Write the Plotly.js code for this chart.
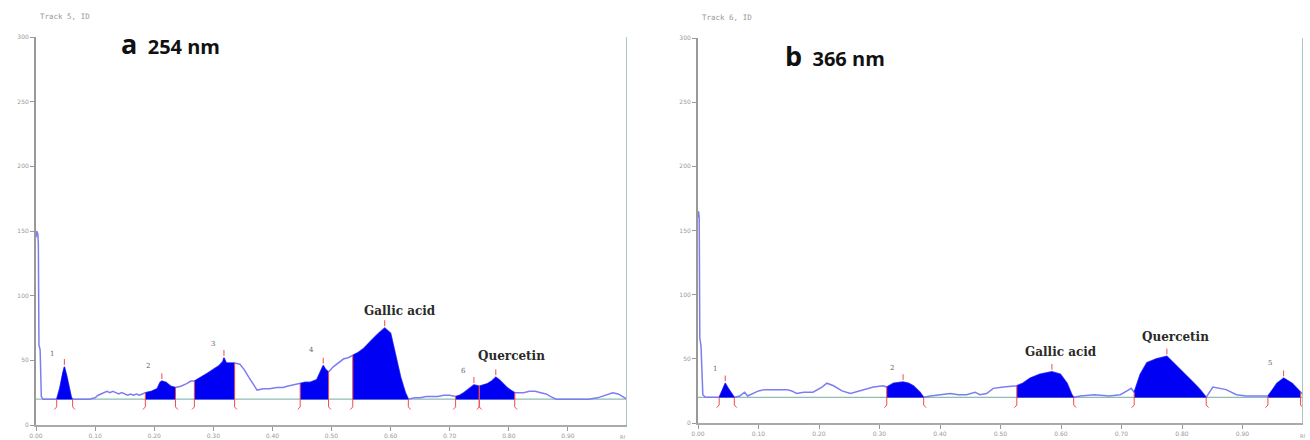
<!DOCTYPE html>
<html>
<head>
<meta charset="utf-8">
<script src="https://cdn.plot.ly/plotly-3.0.1.min.js"></script>
<style>html,body{margin:0;padding:0;background:#fff;}#chart{width:1310px;height:440px;}</style>
</head>
<body>
<div id="chart"></div>
<script>
// ---------- data : panel a (254 nm) ----------
const rfA = [0.000,0.001,0.003,0.004,0.005,0.007,0.009,0.012,0.020,0.030,
  0.035,0.040,0.045,0.048,0.052,0.056,0.060,0.062,0.070,0.080,0.090,0.100,0.105,0.110,0.115,0.120,0.125,0.130,0.135,0.140,0.145,0.150,0.155,0.160,0.165,0.170,0.175,0.180,
  0.185,0.195,0.205,0.210,0.213,0.220,0.228,0.236,
  0.245,0.255,0.262,0.268,0.280,0.290,0.300,0.310,0.316,0.318,0.322,0.330,0.336,
  0.345,0.352,0.360,0.368,0.374,0.385,0.395,0.408,0.418,0.425,0.435,0.443,
  0.447,0.455,0.464,0.475,0.480,0.486,0.490,0.495,
  0.503,0.512,0.520,0.528,0.536,0.545,0.554,0.562,0.571,0.580,0.590,0.595,0.600,0.608,0.617,0.625,0.630,
  0.640,0.650,0.660,0.670,0.680,0.690,0.700,0.710,
  0.717,0.724,0.730,0.735,0.741,0.750,0.757,0.764,0.771,0.778,0.784,0.790,0.797,0.803,0.810,
  0.815,0.825,0.835,0.845,0.854,0.863,0.871,0.880,0.895,0.910,0.922,0.935,0.950,0.963,0.976,0.985,0.993,1.000];
const absA = [145,150,148,140,62,58,22,20,20,20,
  20,28,40,45,38,28,21,20,20,20,20,21,23,24,25,26,25,26,25,24,25,24,23,24,23,24,23,24,
  25,26,28,33,34,33,30,29,
  30,32,34,34,37,40,43,46,49,52,48,48,48,
  47,43,37,31,27,28,28,29,29,30,31,32,
  32,33,33,35,40,46,43,41,
  45,48,51,52,54,56,59,63,67,71,75,73,71,55,37,25,20,
  21,21,22,22,22,23,23,22,
  23,25,27,29,31,30,31,32,34,37,35,32,29,27,25,
  25,25,26,26,25,24,22,20,20,20,20,20,21,23,25,24,22,20];
const peaksA = [
  {name:'1', start:0.035, end:0.062, apex:0.048},
  {name:'2', start:0.185, end:0.236, apex:0.213},
  {name:'3', start:0.268, end:0.336, apex:0.318},
  {name:'4', start:0.447, end:0.495, apex:0.486},
  {name:'Gallic acid', start:0.536, end:0.630, apex:0.590},
  {name:'6', start:0.710, end:0.750, apex:0.741},
  {name:'Quercetin', start:0.750, end:0.810, apex:0.778}
];
const labelsA = [
  {text:'1', x:0.027, y:55, big:false},
  {text:'2', x:0.190, y:46, big:false},
  {text:'3', x:0.300, y:63, big:false},
  {text:'4', x:0.466, y:58, big:false},
  {text:'Gallic acid', x:0.616, y:88, big:true},
  {text:'6', x:0.724, y:42, big:false},
  {text:'Quercetin', x:0.805, y:53, big:true}
];

// ---------- data : panel b (366 nm) ----------
const rfB = [0.000,0.001,0.002,0.003,0.005,0.008,0.012,0.020,0.030,
  0.035,0.040,0.045,0.050,0.055,0.060,
  0.069,0.077,0.082,0.090,0.100,0.110,0.125,0.140,0.147,0.155,0.163,0.175,0.190,0.205,0.213,0.224,0.238,0.252,0.268,0.290,0.306,
  0.312,0.323,0.339,0.348,0.356,0.367,0.373,
  0.384,0.400,0.417,0.430,0.444,0.458,0.466,0.477,0.488,0.505,0.521,
  0.527,0.537,0.549,0.565,0.575,0.585,0.599,0.610,0.618,0.621,
  0.632,0.655,0.680,0.698,0.709,0.716,
  0.721,0.731,0.742,0.758,0.775,0.786,0.797,0.808,0.820,0.830,0.840,
  0.851,0.862,0.873,0.890,0.906,0.920,0.934,
  0.942,0.950,0.957,0.968,0.975,0.982,0.990,0.996,1.000];
const absB = [160,165,160,66,60,22,20,20,20,
  20,25,31,27,23,20,
  21,24,21,23,25,26,26,26,26,25,23,24,24,28,31,29,25,23,25,28,29,
  28,31,32,31,29,24,20,
  21,22,23,22,22,24,22,23,27,28,29,
  29,31,35,38,39,40,38,31,22,20,
  21,22,21,22,25,27,
  24,38,47,50,52,47,42,37,31,26,20,
  28,27,26,22,21,21,21,
  21,26,31,35,33,31,27,24,22];
const peaksB = [
  {name:'1', start:0.035, end:0.060, apex:0.045},
  {name:'2', start:0.312, end:0.373, apex:0.339},
  {name:'Gallic acid', start:0.527, end:0.621, apex:0.585},
  {name:'Quercetin', start:0.721, end:0.840, apex:0.775},
  {name:'5', start:0.942, end:0.996, apex:0.968}
];
const labelsB = [
  {text:'1', x:0.028, y:42, big:false},
  {text:'2', x:0.320, y:43, big:false},
  {text:'Gallic acid', x:0.600, y:55, big:true},
  {text:'Quercetin', x:0.790, y:67, big:true},
  {text:'5', x:0.945, y:47, big:false}
];

const baseline = 20;
const xTickVals = [0,0.1,0.2,0.3,0.4,0.5,0.6,0.7,0.8,0.9];
const xTickText = ['0.00','0.10','0.20','0.30','0.40','0.50','0.60','0.70','0.80','0.90'];
const yTickVals = [0,50,100,150,200,250,300];
const yTickText = ['0','50','100','150','200','250','300'];

// ---------- helpers ----------
function valAt(rf, ab, x){
  for(let i=0;i<rf.length-1;i++){
    if(x>=rf[i] && x<=rf[i+1]){
      const t=(x-rf[i])/(rf[i+1]-rf[i]||1);
      return ab[i]+t*(ab[i+1]-ab[i]);
    }
  }
  return ab[ab.length-1];
}

function buildPanel(rf, ab, peaks, xa, ya){
  const traces=[];
  traces.push({x:[rf[0], rf[rf.length-1]], y:[baseline, baseline], xaxis:xa, yaxis:ya,
    mode:'lines', line:{color:'#8fbdb5', width:1.2}, hoverinfo:'skip'});
  traces.push({x:rf, y:ab, xaxis:xa, yaxis:ya, mode:'lines',
    line:{color:'#7d7df2', width:1.5}, hoverinfo:'skip'});
  peaks.forEach(p=>{
    const px=[p.start], py=[valAt(rf,ab,p.start)];
    for(let i=0;i<rf.length;i++){ if(rf[i]>p.start && rf[i]<p.end){px.push(rf[i]);py.push(ab[i]);} }
    px.push(p.end); py.push(valAt(rf,ab,p.end));
    px.push(p.end, p.start); py.push(baseline, baseline);
    traces.push({x:px, y:py, xaxis:xa, yaxis:ya, mode:'lines', fill:'toself',
      fillcolor:'#0000f5', line:{color:'#0000f5', width:0.5}, hoverinfo:'skip'});
  });
  const mx=[], my=[];
  peaks.forEach(p=>{
    const vs=valAt(rf,ab,p.start), ve=valAt(rf,ab,p.end), va=valAt(rf,ab,p.apex);
    mx.push(p.start,p.start,p.start-0.004,null); my.push(vs,baseline-6,baseline-8,null);
    mx.push(p.end,p.end,p.end+0.004,null); my.push(ve,baseline-6,baseline-8,null);
    mx.push(p.apex,p.apex,null); my.push(va+1.5,va+6,null);
  });
  traces.push({x:mx, y:my, xaxis:xa, yaxis:ya, mode:'lines',
    line:{color:'#f24a4a', width:1}, hoverinfo:'skip', connectgaps:false});
  return traces;
}

const data = [].concat(buildPanel(rfA, absA, peaksA, 'x', 'y'),
                       buildPanel(rfB, absB, peaksB, 'x2', 'y2'));

const tickFont = {family:'DejaVu Sans', size:6, color:'#999'};
function xAxis(dom, anchor){
  return {domain:dom, range:[0,1], anchor:anchor, tickvals:xTickVals, ticktext:xTickText,
    ticks:'outside', ticklen:4, tickcolor:'#999', tickfont:tickFont, showgrid:false, zeroline:false,
    showline:true, linecolor:'#aaa', linewidth:1.5, fixedrange:true};
}
function yAxis(dom, anchor){
  return {domain:dom, range:[0,300], anchor:anchor, tickvals:yTickVals, ticktext:yTickText,
    ticks:'outside', ticklen:4, tickcolor:'#999', tickfont:tickFont, showgrid:false, zeroline:false,
    showline:true, linecolor:'#999', linewidth:2, fixedrange:true};
}

function peakAnnots(labels, xr, yr){
  return labels.map(l=>({x:l.x, y:l.y, xref:xr, yref:yr, text: l.big? '<b>'+l.text+'</b>' : l.text,
    showarrow:false, xanchor:'center', yanchor:'middle',
    font: l.big ? {family:'DejaVu Serif', size:12, color:'#2a2a2a'} : {family:'DejaVu Serif', size:7, color:'#666'}}));
}

const annotations = [].concat(
  peakAnnots(labelsA,'x','y'),
  peakAnnots(labelsB,'x2','y2'),
  [
    {x:119/1310, y:1-44/440, xref:'paper', yref:'paper', xanchor:'left', yanchor:'middle', showarrow:false,
     text:'<span style="font-size:27px">a</span>  254 nm', font:{family:'Open Sans', size:20, color:'#111', weight:700}},
    {x:783/1310, y:1-56/440, xref:'paper', yref:'paper', xanchor:'left', yanchor:'middle', showarrow:false,
     text:'<span style="font-size:27px">b</span>  366 nm', font:{family:'Open Sans', size:20, color:'#111', weight:700}},
    {x:38/1310, y:1-16/440, xref:'paper', yref:'paper', xanchor:'left', yanchor:'middle', showarrow:false,
     text:'Track 5, ID', font:{family:'DejaVu Sans Mono', size:7.5, color:'#999'}},
    {x:700/1310, y:1-18/440, xref:'paper', yref:'paper', xanchor:'left', yanchor:'middle', showarrow:false,
     text:'Track 6, ID', font:{family:'DejaVu Sans Mono', size:7.5, color:'#999'}},
    {x:622/1310, y:1-437/440, xref:'paper', yref:'paper', xanchor:'center', yanchor:'middle', showarrow:false,
     text:'Rf', font:{family:'DejaVu Sans', size:5, color:'#999'}},
    {x:1302/1310, y:1-436/440, xref:'paper', yref:'paper', xanchor:'center', yanchor:'middle', showarrow:false,
     text:'Rf', font:{family:'DejaVu Sans', size:5, color:'#999'}}
  ]
);

const layout = {
  width:1310, height:440, margin:{l:0,r:0,t:0,b:0},
  paper_bgcolor:'#fff', plot_bgcolor:'#fff', showlegend:false,
  xaxis: xAxis([36/1310, 627/1310], 'y'),
  yaxis: yAxis([15/440, 403/440], 'x'),
  xaxis2: xAxis([698/1310, 1303/1310], 'y2'),
  yaxis2: yAxis([17/440, 402/440], 'x2'),
  shapes:[
    {type:'line', xref:'x', yref:'y', x0:1, x1:1, y0:0, y1:300, line:{color:'#a8c8c0', width:2}},
    {type:'line', xref:'x2', yref:'y2', x0:1, x1:1, y0:0, y1:300, line:{color:'#a8c8c0', width:2}}
  ],
  annotations: annotations
};

Plotly.newPlot('chart', data, layout, {staticPlot:true, displayModeBar:false});
</script>
</body>
</html>
